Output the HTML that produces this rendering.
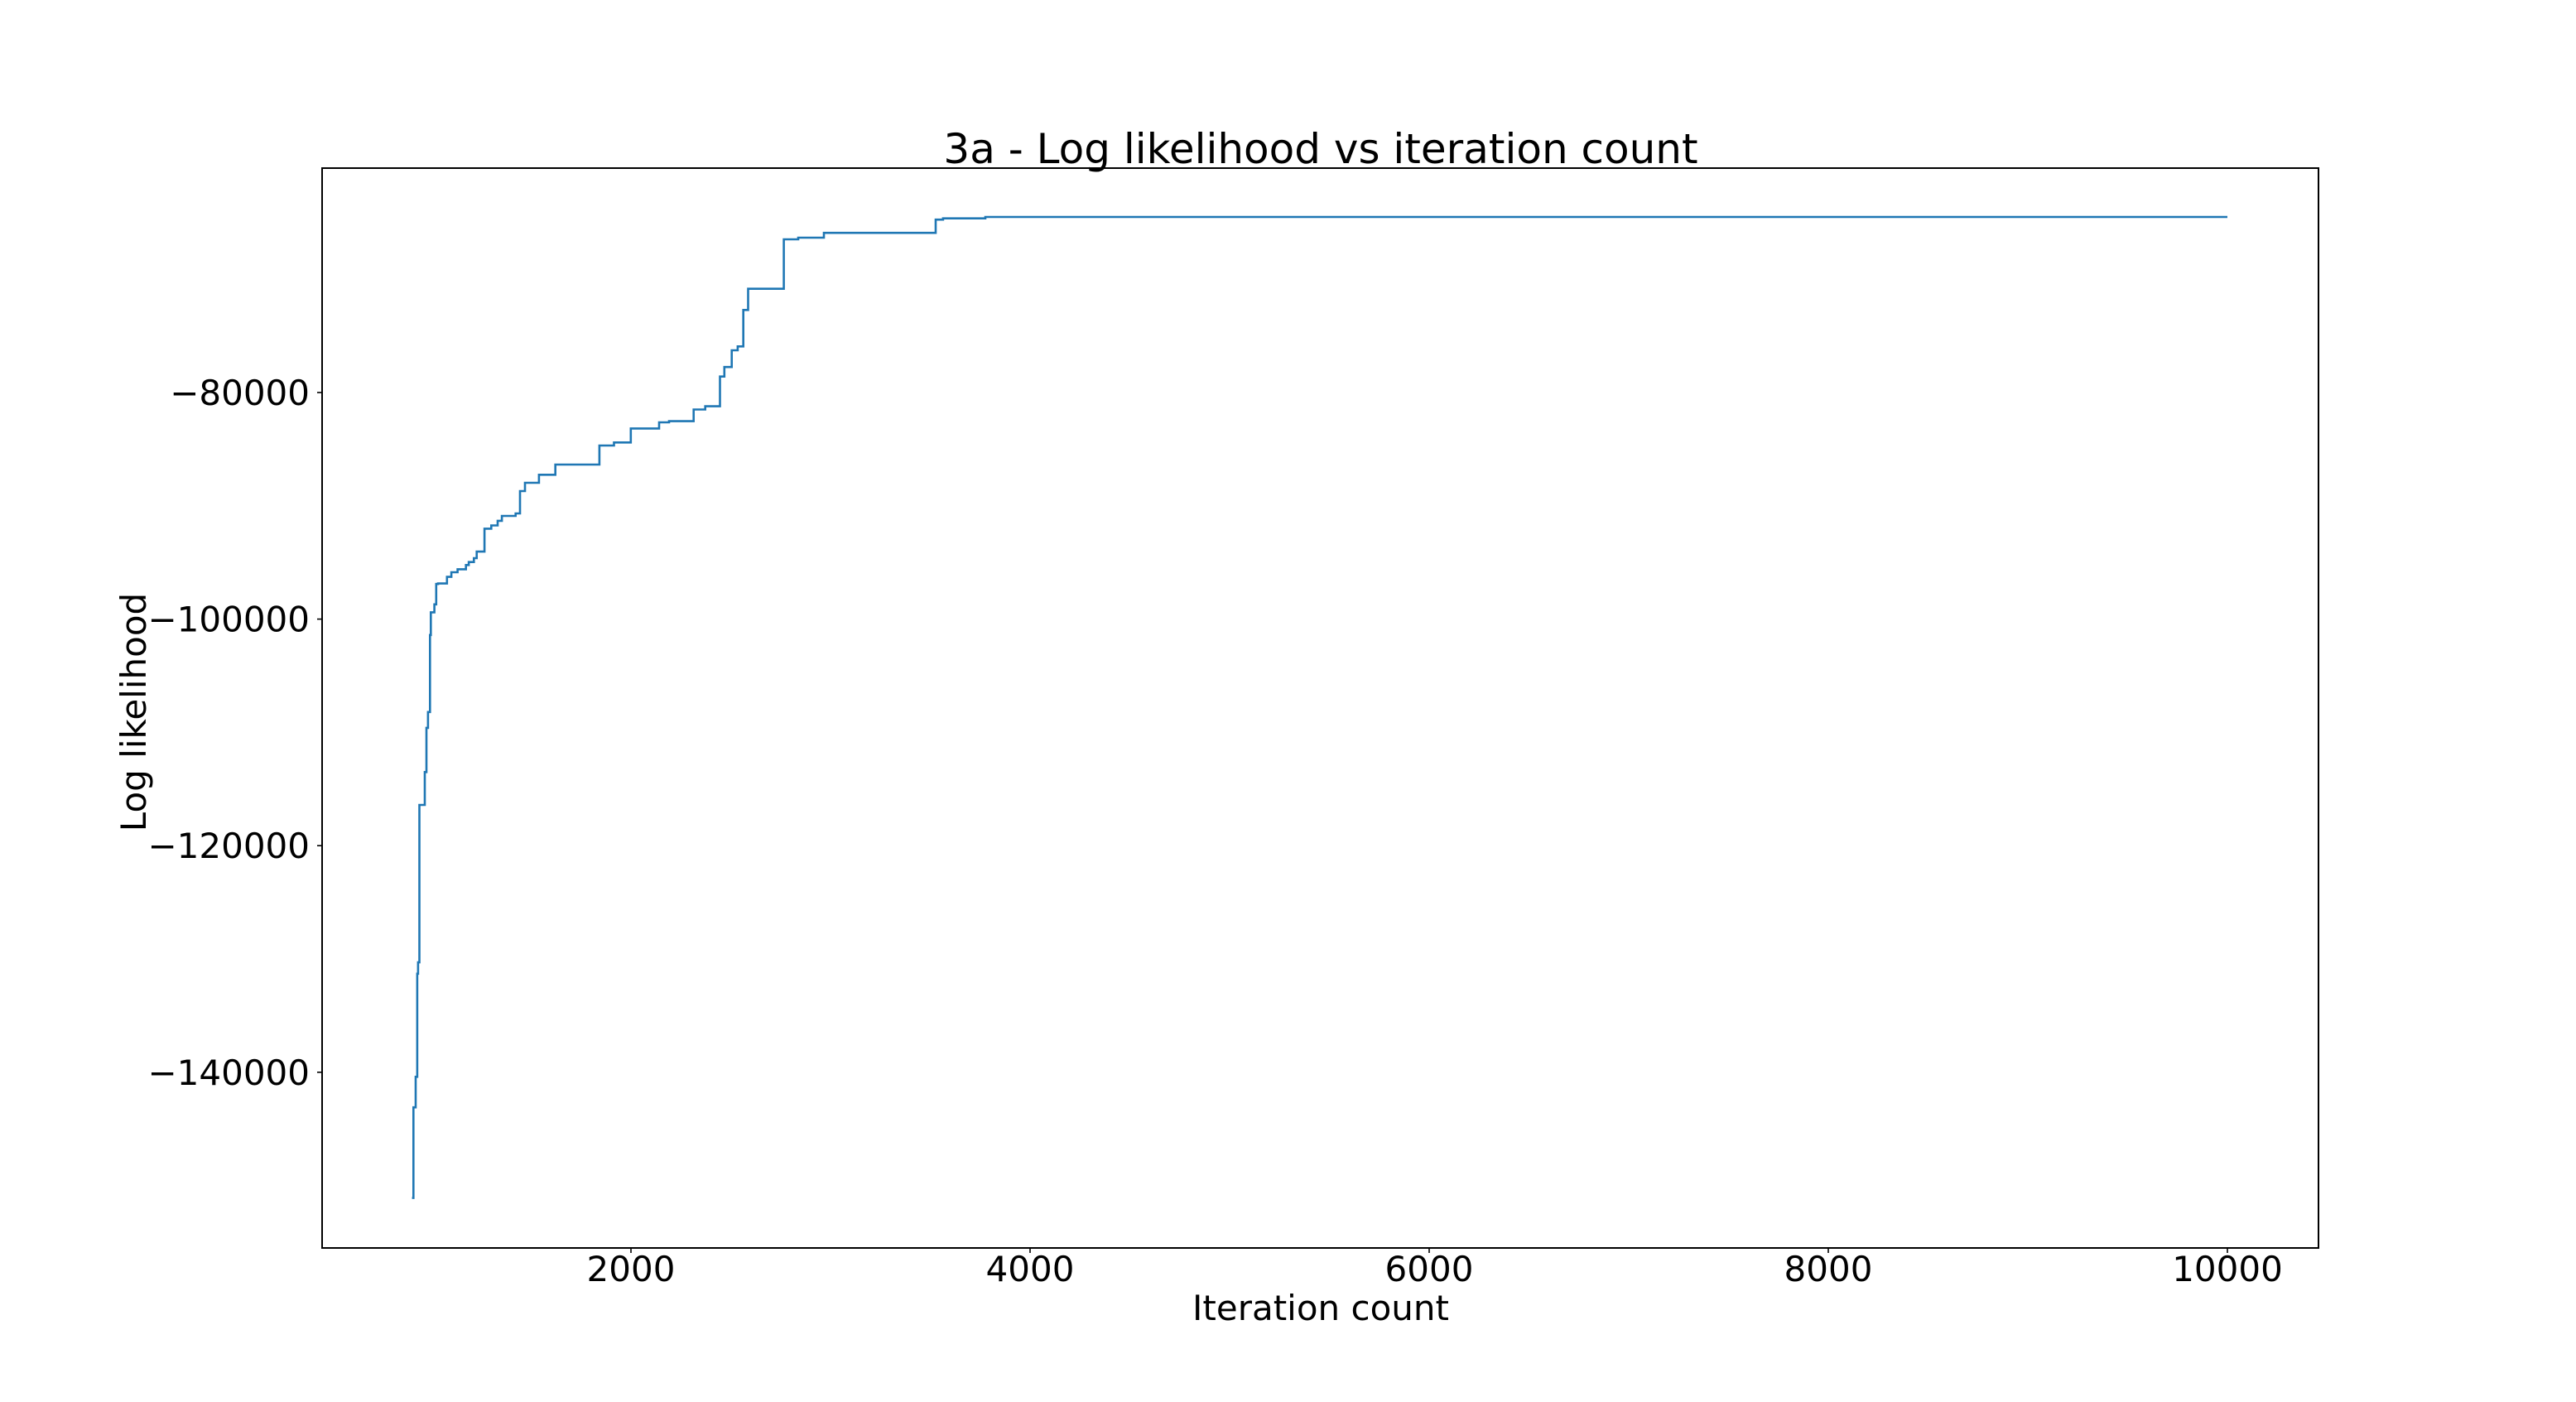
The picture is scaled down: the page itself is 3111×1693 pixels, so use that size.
<!DOCTYPE html>
<html><head><meta charset="utf-8"><style>
html,body{margin:0;padding:0;background:#fff;}
svg{display:block;font-family:"DejaVu Sans","Liberation Sans",sans-serif;}
</style></head><body>
<svg id="chart" width="3111" height="1693" viewBox="0 0 3111 1693" xmlns="http://www.w3.org/2000/svg">
<rect x="0" y="0" width="3111" height="1693" fill="#fff"/>
<text x="1595" y="197" font-size="50" text-anchor="middle">3a - Log likelihood vs iteration count</text>
<g id="xticks"></g>
<g id="yticks"></g>
<path id="series" fill="none" stroke="#1f77b4" stroke-width="2.6" stroke-linejoin="miter"/>
<rect x="389" y="203" width="2411" height="1304" fill="none" stroke="#000" stroke-width="2"/>
<text x="1595" y="1594" font-size="42" text-anchor="middle">Iteration count</text>
<text x="0" y="0" font-size="42" text-anchor="middle" transform="translate(176,860) rotate(-90)">Log likelihood</text>
</svg>
<script>
const iterations = [903,910,921,929,933,940,967,975,983,993,997,1015,1024,1033,1078,1100,1131,1173,1187,1213,1227,1266,1300,1332,1353,1422,1444,1469,1539,1621,1842,1915,1999,2141,2191,2314,2372,2446,2468,2505,2535,2563,2587,2766,2838,2967,3527,3564,3776,10000];
const logLik = [-151100,-143100,-140400,-131300,-130300,-116400,-113500,-109600,-108200,-101400,-99400,-98700,-96900,-96860,-96270,-95860,-95600,-95230,-94960,-94620,-94040,-92020,-91730,-91320,-90890,-90670,-88700,-87970,-87260,-86360,-84680,-84410,-83170,-82630,-82530,-81500,-81210,-78590,-77750,-76270,-75930,-72710,-70840,-66480,-66330,-65910,-64740,-64630,-64500,-64500];
const xTickValues = [2000,4000,6000,8000,10000];
const xTickLabels = ["2000","4000","6000","8000","10000"];
const yTickValues = [-80000,-100000,-120000,-140000];
const yTickLabels = ["\u221280000","\u2212100000","\u2212120000","\u2212140000"];

const NS = "http://www.w3.org/2000/svg";
function xScale(v){ return 762 + (v - 2000) * (482/2000); }
function yScale(v){ return 474 + (-80000 - v) * (273.6/20000); }

let d = "";
for (let i = 0; i < iterations.length; i++) {
  const x = xScale(iterations[i]), y = yScale(logLik[i]);
  if (i === 0) d += "M" + x.toFixed(1) + "," + y.toFixed(1);
  else d += "H" + x.toFixed(1) + "V" + y.toFixed(1);
}
if (iterations.length) d += "H" + xScale(iterations[iterations.length-1]).toFixed(1);
document.getElementById("series").setAttribute("d", d);

const xg = document.getElementById("xticks");
xTickValues.forEach((v, i) => {
  const x = xScale(v);
  const t = document.createElementNS(NS, "line");
  t.setAttribute("x1", x); t.setAttribute("x2", x);
  t.setAttribute("y1", 1507); t.setAttribute("y2", 1513);
  t.setAttribute("stroke", "#000"); t.setAttribute("stroke-width", "1.6");
  
  
  xg.appendChild(t);
  const l = document.createElementNS(NS, "text");
  l.setAttribute("x", x); l.setAttribute("y", 1547);
  l.setAttribute("font-size", "42"); l.setAttribute("text-anchor", "middle");
  l.textContent = xTickLabels[i];
  
  
  xg.appendChild(l);
});

const yg = document.getElementById("yticks");
yTickValues.forEach((v, i) => {
  const y = yScale(v);
  const t = document.createElementNS(NS, "line");
  t.setAttribute("x1", 383); t.setAttribute("x2", 389);
  t.setAttribute("y1", y); t.setAttribute("y2", y);
  t.setAttribute("stroke", "#000"); t.setAttribute("stroke-width", "1.6");
  
  
  yg.appendChild(t);
  const l = document.createElementNS(NS, "text");
  l.setAttribute("x", 374); l.setAttribute("y", y + 15);
  l.setAttribute("font-size", "42"); l.setAttribute("text-anchor", "end");
  l.textContent = yTickLabels[i];
  
  
  yg.appendChild(l);
});
</script>
</body></html>
